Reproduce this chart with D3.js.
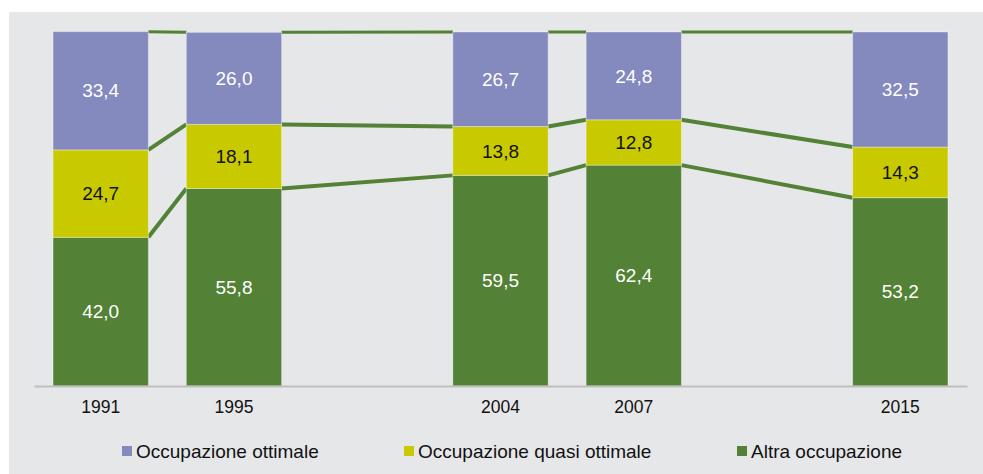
<!DOCTYPE html>
<html>
<head>
<meta charset="utf-8">
<script src="https://cdn.jsdelivr.net/npm/d3@7"></script>
<style>
  body { margin: 0; background: #fff; }
  svg text { font-family: "Liberation Sans", Arial, sans-serif; }
</style>
</head>
<body>
<div id="chart"></div>
<script>
var W = 983, H = 474;
var margin = {top: 32, left: 34, right: 16, bottom: 88};

// slots on the x axis ("" = empty gap)
var slots = ["1991", "1995", "", "2004", "2007", "", "2015"];
var years = ["1991", "1995", "2004", "2007", "2015"];
var altra   = [42.0, 55.8, 59.5, 62.4, 53.2];
var quasi   = [24.7, 18.1, 13.8, 12.8, 14.3];
var ottimale = [33.4, 26.0, 26.7, 24.8, 32.5];

var seriesNames = ["Occupazione ottimale", "Occupazione quasi ottimale", "Altra occupazione"];
var colors = {"Altra occupazione": "#538135", "Occupazione quasi ottimale": "#c9c900", "Occupazione ottimale": "#8489be"};
var textColors = {"Altra occupazione": "#fff", "Occupazione quasi ottimale": "#111", "Occupazione ottimale": "#fff"};

var rows = years.map(function (y, i) {
    return {year: y, "Altra occupazione": altra[i], "Occupazione quasi ottimale": quasi[i], "Occupazione ottimale": ottimale[i]};
});

var svg = d3.select("#chart").append("svg")
    .attr("width", W).attr("height", H);

svg.append("rect")
    .attr("x", 9).attr("y", 12)
    .attr("width", W - 9).attr("height", H - 12)
    .attr("fill", "#e6e7e9");

var width = 967 - margin.left, height = 386 - margin.top;
var g = svg.append("g").attr("transform", "translate(" + margin.left + "," + margin.top + ")");

var x = d3.scaleBand().domain(slots.map(function (d, i) { return i; }))
    .range([0, width]).paddingInner(0.285).paddingOuter(0.143);
function xs(year) { return x(slots.indexOf(year)); }

var y = d3.scaleLinear().domain([0, 100]).range([height, 0]);

var stack = d3.stack().keys(["Altra occupazione", "Occupazione quasi ottimale", "Occupazione ottimale"]);
var layers = stack(rows);

// connector lines between bars
layers.forEach(function (layer) {
    for (var i = 0; i < layer.length - 1; i++) {
        var a = layer[i], b = layer[i + 1];
        g.append("line")
            .attr("x1", xs(a.data.year) + x.bandwidth())
            .attr("x2", xs(b.data.year))
            .attr("y1", y(a[1]))
            .attr("y2", y(b[1]))
            .attr("stroke", "#538135")
            .attr("stroke-width", layer.key === "Occupazione ottimale" ? 3 : 4);
    }
});

var lg = g.selectAll("g.layer").data(layers).enter().append("g").attr("class", "layer");
lg.selectAll("rect").data(function (d) { return d; }).enter().append("rect")
    .attr("x", function (d) { return xs(d.data.year); })
    .attr("y", function (d) { return y(d[1]); })
    .attr("width", x.bandwidth())
    .attr("height", function (d) { return y(d[0]) - y(d[1]); })
    .attr("fill", function () { return colors[d3.select(this.parentNode).datum().key]; })
    .attr("stroke", "rgba(255,255,255,0.35)")
    .attr("stroke-width", 1);

lg.each(function (layer) {
    d3.select(this).selectAll("text").data(layer).enter().append("text")
        .attr("x", function (d) { return xs(d.data.year) + x.bandwidth() / 2; })
        .attr("y", function (d) { return (y(d[0]) + y(d[1])) / 2; })
        .attr("dy", "0.35em")
        .attr("text-anchor", "middle")
        .style("font-size", "19px")
        .attr("fill", textColors[layer.key])
        .text(function (d) { return d3.format(".1f")(d[1] - d[0]).replace(".", ","); });
});

// x axis
var axis = g.append("g").attr("transform", "translate(0," + height + ")")
    .call(d3.axisBottom(x).tickSize(0).tickPadding(15).tickFormat(function (i) { return slots[i]; }));
axis.select(".domain").attr("stroke", "#bfbfbf").attr("stroke-width", 2);
axis.selectAll("text").style("font-size", "17.5px").attr("fill", "#111")
    .style("font-family", "Liberation Sans, Arial, sans-serif");

// legend
var legendX = [122, 404, 737];
var leg = svg.selectAll("g.leg").data(seriesNames).enter().append("g")
    .attr("transform", function (d, i) { return "translate(" + legendX[i] + ",446)"; });
leg.append("rect").attr("width", 10).attr("height", 10)
    .attr("fill", function (d) { return colors[d]; });
leg.append("text").attr("x", 14).attr("y", 5).attr("dy", "0.35em")
    .style("font-size", "19px").attr("fill", "#111")
    .text(function (d) { return d; });
</script>
</body>
</html>
